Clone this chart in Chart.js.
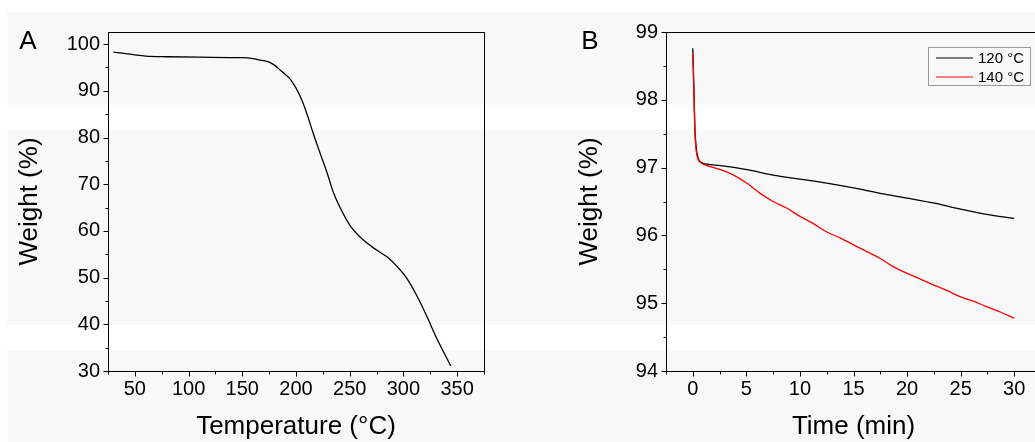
<!DOCTYPE html>
<html><head><meta charset="utf-8">
<script src="https://cdn.jsdelivr.net/npm/chart.js@4"></script>
<style>
html,body{margin:0;padding:0;width:1035px;height:442px;overflow:hidden;background:#fff;position:relative}
.band{position:absolute;left:7px;right:0;background:#f8f8f8}
#cA{position:absolute;left:0;top:0}
#cB{position:absolute;left:520px;top:0}
</style></head><body>
<div class="band" style="top:12px;height:93px"></div>
<div class="band" style="top:130px;height:195px"></div>
<div class="band" style="top:350px;height:92px"></div>
<canvas id="cA" width="517" height="442"></canvas>
<canvas id="cB" width="560" height="442"></canvas>
<script>
// ---- Panel A data: TGA curve ----
const tempA   = [30,40,50,60,80,110,150,160,166.6,171,176,180.5,185,190,195,204,210,216,222.5,229,235,241,250.5,262,275,285,294,303,313,322,331,344];
const weightA = [98.3,98.0,97.7,97.45,97.3,97.2,97.1,96.9,96.6,96.4,96.05,95.4,94.5,93.5,92.4,88.8,85.2,80.9,76.6,72.4,68.1,65.0,61.1,58.2,55.9,54.4,52.4,49.9,45.9,41.6,37.0,31.1];
const xTicksA = [50,100,150,200,250,300,350];
const xMinorA = [25,75,125,175,225,275,325,375];
const yTicksA = [30,40,50,60,70,80,90,100];
const yMinorA = [35,45,55,65,75,85,95];

// ---- Panel B data: isothermal ----
const time120 = [0,0.09,0.19,0.31,0.5,0.87,1.34,2.6,5.06,7.5,10,12.5,15,17.5,20,22.45,24.9,27.4,30];
const w120    = [98.76,98.25,97.61,97.31,97.14,97.07,97.05,97.03,96.97,96.89,96.83,96.77,96.70,96.62,96.55,96.48,96.39,96.31,96.25];
const time140 = [0,0.09,0.19,0.31,0.5,0.87,1.34,2.6,3.8,5.06,6.3,7.5,8.8,10,11.3,12.5,13.8,15,16.25,17.5,18.7,20,21.2,22.45,23.7,24.9,26.2,27.4,28.7,30];
const w140    = [98.69,98.2,97.56,97.26,97.12,97.06,97.03,96.97,96.89,96.77,96.62,96.5,96.40,96.28,96.17,96.05,95.96,95.86,95.76,95.66,95.54,95.44,95.36,95.27,95.19,95.1,95.03,94.95,94.87,94.78];
const xTicksB = [0,5,10,15,20,25,30];
const xMinorB = [-2.5,2.5,7.5,12.5,17.5,22.5,27.5,32.5];
const yTicksB = [94,95,96,97,98,99];
const yMinorB = [94.5,95.5,96.5,97.5,98.5];
const seriesLabels = ['120 °C','140 °C'];
const seriesColors = ['#000000','#ff0000'];

const FONT = "'Liberation Sans', Arial, sans-serif";
Chart.defaults.font.family = FONT;
Chart.defaults.color = '#000';

const framePlugin = {
  id: 'frame',
  afterDatasetsDraw(chart, args, o) {
    const ctx = chart.ctx, a = chart.chartArea, xs = chart.scales.x, ys = chart.scales.y;
    ctx.save();
    ctx.strokeStyle = '#000'; ctx.lineWidth = 1;
    const L = Math.round(a.left) + 0.5, R = Math.round(a.right) + 0.5, T = Math.round(a.top) + 0.5, B = Math.round(a.bottom) + 0.5;
    ctx.strokeRect(L, T, R - L, B - T);
    ctx.beginPath();
    xs.ticks.forEach(t => { const x = Math.round(xs.getPixelForValue(t.value)) + 0.5; ctx.moveTo(x, B); ctx.lineTo(x, B + 5); });
    o.xMinor.forEach(v => { const x = Math.round(xs.getPixelForValue(v)) + 0.5; ctx.moveTo(x, B); ctx.lineTo(x, B + 3); });
    ys.ticks.forEach(t => { const y = Math.round(ys.getPixelForValue(t.value)) + 0.5; ctx.moveTo(L, y); ctx.lineTo(L - 5, y); });
    o.yMinor.forEach(v => { const y = Math.round(ys.getPixelForValue(v)) + 0.5; ctx.moveTo(L, y); ctx.lineTo(L - 3, y); });
    ctx.stroke();
    // panel letter
    ctx.fillStyle = '#000';
    ctx.font = "26px " + FONT;
    ctx.textAlign = 'center'; ctx.textBaseline = 'middle';
    ctx.fillText(o.letter, o.letterX, o.letterY);
    // legend
    if (o.legend) {
      const bw = 102, bh = 38;
      const bx = Math.round(a.right) - 11 - bw, by = Math.round(a.top) + 15;
      ctx.strokeStyle = '#999'; ctx.lineWidth = 1;
      ctx.strokeRect(bx + 0.5, by + 0.5, bw, bh);
      ctx.font = "15px " + FONT;
      ctx.textAlign = 'left';
      chart.data.datasets.forEach((ds, i) => {
        const yy = by + 11 + i * 19;
        ctx.strokeStyle = ds.borderColor; ctx.lineWidth = 1.2;
        ctx.beginPath(); ctx.moveTo(bx + 8, yy); ctx.lineTo(bx + 45, yy); ctx.stroke();
        ctx.fillStyle = '#000';
        ctx.fillText(ds.label, bx + 50, yy + 1);
      });
    }
    ctx.restore();
  }
};

function makeScales(cfg) {
  return {
    x: {
      type: 'linear', min: cfg.xMin, max: cfg.xMax,
      afterBuildTicks: s => { s.ticks = cfg.xTicks.map(v => ({ value: v })); },
      afterFit: s => { s.height = 71; },
      grid: { display: false, drawTicks: true, tickLength: 5 },
      border: { display: false },
      ticks: { font: { size: 20 }, color: '#000', padding: 1, maxRotation: 0, autoSkip: false },
      title: { display: true, text: cfg.xTitle, font: { size: 26 }, color: '#000', padding: { top: 0, bottom: 0 } }
    },
    y: {
      type: 'linear', min: cfg.yMin, max: cfg.yMax,
      afterBuildTicks: s => { s.ticks = cfg.yTicks.map(v => ({ value: v })); },
      afterFit: s => { s.width = cfg.yWidth; },
      grid: { display: false, drawTicks: true, tickLength: 5 },
      border: { display: false },
      ticks: { font: { size: 20 }, color: '#000', padding: 3, autoSkip: false },
      title: { display: true, text: cfg.yTitle, font: { size: 26 }, color: '#000', padding: { top: cfg.yTitlePad, bottom: 0 } }
    }
  };
}

new Chart(document.getElementById('cA'), {
  type: 'line',
  data: {
    datasets: [{
      label: 'TGA',
      data: tempA.map((t, i) => ({ x: t, y: weightA[i] })),
      borderColor: '#000', borderWidth: 1.3, pointRadius: 0,
      cubicInterpolationMode: 'monotone', fill: false
    }]
  },
  options: {
    responsive: false, animation: false, devicePixelRatio: 1,
    layout: { padding: { top: 32, right: 33, left: 0, bottom: 0 } },
    plugins: { legend: { display: false }, tooltip: { enabled: false },
      frame: { xMinor: xMinorA, yMinor: yMinorA, letter: 'A', letterX: 28, letterY: 42, legend: false } },
    scales: makeScales({ xMin: 25, xMax: 375, yMin: 30, yMax: 102.6, xTicks: xTicksA, yTicks: yTicksA,
      xTitle: 'Temperature (°C)', yTitle: 'Weight (%)', yWidth: 108, yTitlePad: 14 })
  },
  plugins: [framePlugin]
});

new Chart(document.getElementById('cB'), {
  type: 'line',
  data: {
    datasets: [
      { label: seriesLabels[0], data: time120.map((t, i) => ({ x: t, y: w120[i] })),
        borderColor: seriesColors[0], borderWidth: 1.3, pointRadius: 0, cubicInterpolationMode: 'monotone', fill: false, order: 1 },
      { label: seriesLabels[1], data: time140.map((t, i) => ({ x: t, y: w140[i] })),
        borderColor: seriesColors[1], borderWidth: 1.3, pointRadius: 0, cubicInterpolationMode: 'monotone', fill: false, order: 0 }
    ]
  },
  options: {
    responsive: false, animation: false, devicePixelRatio: 1,
    layout: { padding: { top: 32, right: 39, left: 0, bottom: 0 } },
    plugins: { legend: { display: false }, tooltip: { enabled: false },
      frame: { xMinor: xMinorB, yMinor: yMinorB, letter: 'B', letterX: 70, letterY: 42, legend: true } },
    scales: makeScales({ xMin: -2.5, xMax: 32.5, yMin: 94, yMax: 99, xTicks: xTicksB, yTicks: yTicksB,
      xTitle: 'Time (min)', yTitle: 'Weight (%)', yWidth: 146, yTitlePad: 54 })
  },
  plugins: [framePlugin]
});
</script>
</body></html>
